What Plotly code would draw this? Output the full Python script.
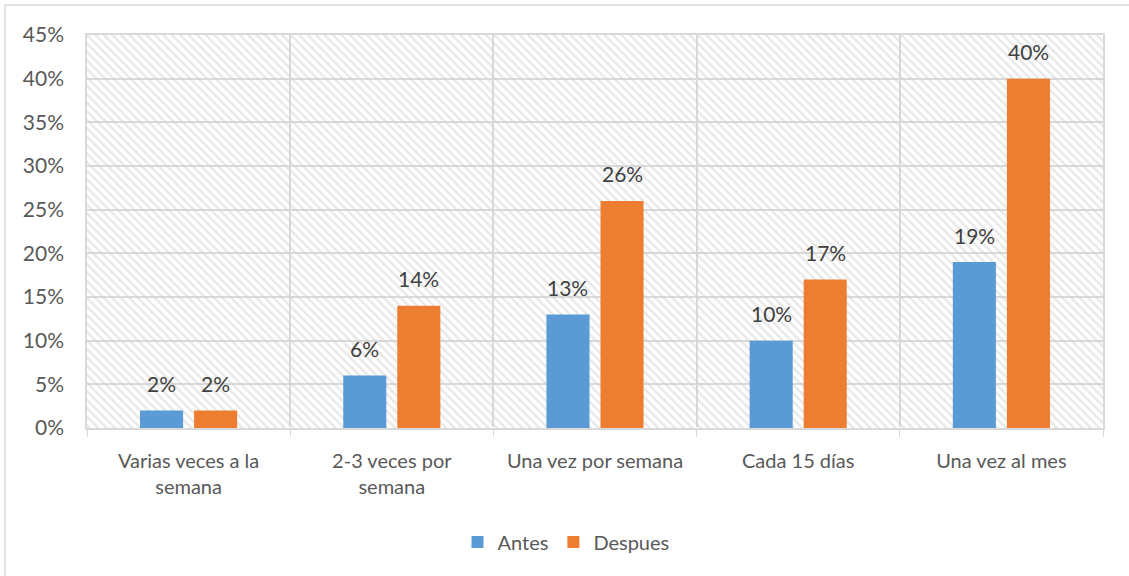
import plotly.graph_objects as go

categories = ["Varias veces a la<br>semana", "2-3 veces por<br>semana", "Una vez por semana", "Cada 15 días", "Una vez al mes"]
antes = [0.02, 0.06, 0.13, 0.10, 0.19]
despues = [0.02, 0.14, 0.26, 0.17, 0.40]
series_names = ["Antes", "Despues"]
tick_vals = [0, 0.05, 0.10, 0.15, 0.20, 0.25, 0.30, 0.35, 0.40, 0.45]
y_max = 0.45

BLUE = "#5B9BD5"
ORANGE = "#ED7D31"
GRID = "#D9D9D9"
FONT = "Lato"

BAR_W = 0.212
OFF_A = -0.239
OFF_D = 0.027

L, R, T, B = 87, 26, 35, 148
PW, PH = 1129 - L - R, 576 - T - B

fig = go.Figure()

# hatched plot background
fig.add_trace(go.Bar(
    x=categories, y=[y_max] * len(categories), width=1.0,
    marker=dict(color="rgba(0,0,0,0)", line=dict(width=0),
                pattern=dict(shape="\\", fgcolor="#D0D0D0", bgcolor="rgba(0,0,0,0)", size=6, solidity=0.4)),
    showlegend=False, hoverinfo="skip"))

fig.add_trace(go.Bar(x=categories, y=antes, name=series_names[0], width=BAR_W, offset=OFF_A,
                     marker=dict(color=BLUE, line=dict(width=0))))
fig.add_trace(go.Bar(x=categories, y=despues, name=series_names[1], width=BAR_W, offset=OFF_D,
                     marker=dict(color=ORANGE, line=dict(width=0))))

annotations = []
for vals, off in ((antes, OFF_A), (despues, OFF_D)):
    for i, v in enumerate(vals):
        annotations.append(dict(
            x=i + off + BAR_W / 2, y=v, xref="x", yref="y", text=f"{round(v*100)}%",
            showarrow=False, yanchor="middle", yshift=27,
            font=dict(family=FONT, size=21, color="#404040")))

fig.update_layout(
    width=1129, height=576,
    margin=dict(l=L, r=R, t=T, b=B),
    paper_bgcolor="white", plot_bgcolor="white",
    barmode="overlay",
    font=dict(family=FONT, size=20, color="#595959"),
    annotations=annotations,
    legend=dict(orientation="h", x=(566 - L) / PW, xanchor="center", y=-(542 - 428) / PH, yanchor="middle",
                font=dict(family=FONT, size=20, color="#595959"), itemwidth=30,
                traceorder="normal"),
    shapes=[dict(type="rect", xref="paper", yref="paper",
                 x0=(5 - L) / PW, x1=(1135 - L) / PW, y0=-(585 - 428) / PH, y1=(428 - 5) / PH,
                 line=dict(color=GRID, width=1.5), fillcolor="rgba(0,0,0,0)", layer="below")],
)
fig.update_xaxes(
    tickson="boundaries", ticks="outside", ticklen=7, tickcolor=GRID,
    showgrid=True, gridcolor=GRID, gridwidth=1.5,
    showline=True, linecolor=GRID, linewidth=1.5, mirror=True,
    tickfont=dict(family=FONT, size=20, color="#595959"), ticklabelstandoff=14,
    range=[-0.5, 4.5], fixedrange=True)
fig.update_yaxes(
    range=[0, y_max], tickvals=tick_vals, tickformat=".0%",
    showgrid=True, gridcolor=GRID, gridwidth=1.5,
    showline=True, linecolor=GRID, linewidth=1.5, mirror=True,
    tickfont=dict(family=FONT, size=21, color="#595959"), ticks="", ticklen=0,
    ticklabelstandoff=17, fixedrange=True)

fig.write_html("out.html", config={"displayModeBar": False},
               post_script="document.body.style.margin='0';")
